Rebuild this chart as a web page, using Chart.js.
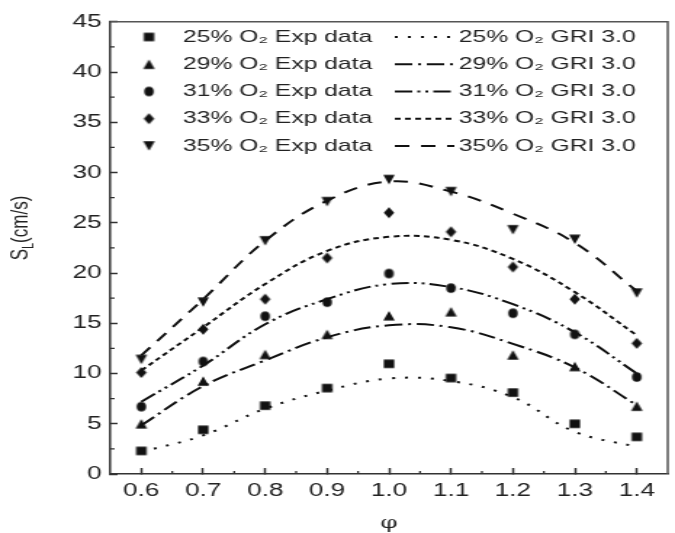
<!DOCTYPE html>
<html>
<head>
<meta charset="utf-8">
<script src="https://cdn.jsdelivr.net/npm/chart.js@4.4.1/dist/chart.umd.min.js"></script>
<style>
  html, body { margin: 0; padding: 0; background: #fff; }
  #wrap { width: 675px; height: 533px; overflow: hidden; }
</style>
</head>
<body>
<div id="wrap"><canvas id="c" width="465" height="533" style="display:block;width:675px;height:533px;"></canvas></div>
<script>
// ---- data ----
const phi = [0.6, 0.7, 0.8, 0.9, 1.0, 1.1, 1.2, 1.3, 1.4];
const xTicks = [0.6, 0.7, 0.8, 0.9, 1.0, 1.1, 1.2, 1.3, 1.4];
const yTicks = [0, 5, 10, 15, 20, 25, 30, 35, 40, 45];

const exp25 = [2.3, 4.4, 6.8, 8.55, 10.97, 9.55, 8.1, 5.0, 3.7];
const exp29 = [5.0, 9.25, 11.9, 13.9, 15.75, 16.15, 11.85, 10.7, 6.75];
const exp31 = [6.7, 11.2, 15.7, 17.1, 19.95, 18.5, 16.0, 13.9, 9.65];
const exp33 = [10.1, 14.4, 17.4, 21.5, 26.0, 24.1, 20.6, 17.4, 13.0];
const exp35 = [11.4, 17.1, 23.2, 27.1, 29.3, 28.1, 24.3, 23.35, 18.0];

const gri25 = [2.2, 3.85, 6.5, 8.3, 9.5, 9.25, 7.65, 4.2, 2.7];
const gri29 = [4.85, 8.75, 11.3, 13.6, 14.8, 14.6, 12.95, 10.6, 6.85];
const gri31 = [7.2, 10.8, 14.9, 17.4, 18.9, 18.6, 16.9, 14.1, 10.0];
const gri33 = [10.3, 14.6, 18.9, 22.2, 23.6, 23.3, 21.4, 18.1, 13.8];
const gri35 = [11.8, 17.4, 23.2, 27.2, 29.1, 28.1, 25.9, 23.0, 18.2];

const expLabels = ['25% O₂ Exp data', '29% O₂ Exp data', '31% O₂ Exp data', '33% O₂ Exp data', '35% O₂ Exp data'];
const griLabels = ['25% O₂ GRI 3.0', '29% O₂ GRI 3.0', '31% O₂ GRI 3.0', '33% O₂ GRI 3.0', '35% O₂ GRI 3.0'];

// ---- styling ----
const INK = '#111111';
const FONT = "'Liberation Sans', Arial, 'DejaVu Sans', sans-serif";
const SX = 675 / 465; // horizontal display stretch of the canvas

// marker glyphs, pre-compensated for the horizontal stretch
function makeMarker(kind, wScreen, h) {
  const w = wScreen / SX;
  const cw = Math.ceil(w) + 2, ch = Math.ceil(h) + 2;
  const c = document.createElement('canvas');
  c.width = cw; c.height = ch;
  const g = c.getContext('2d');
  g.fillStyle = INK;
  const cx = cw / 2, cy = ch / 2;
  g.beginPath();
  if (kind === 'square') {
    g.rect(cx - w / 2, cy - h / 2, w, h);
  } else if (kind === 'up') {
    g.moveTo(cx, cy - h / 2); g.lineTo(cx + w / 2, cy + h / 2); g.lineTo(cx - w / 2, cy + h / 2);
  } else if (kind === 'down') {
    g.moveTo(cx - w / 2, cy - h / 2); g.lineTo(cx + w / 2, cy - h / 2); g.lineTo(cx, cy + h / 2);
  } else if (kind === 'circle') {
    g.ellipse(cx, cy, w / 2, h / 2, 0, 0, Math.PI * 2);
  } else if (kind === 'diamond') {
    g.moveTo(cx, cy - h / 2); g.lineTo(cx + w / 2, cy); g.lineTo(cx, cy + h / 2); g.lineTo(cx - w / 2, cy);
  }
  g.closePath();
  g.fill();
  return c;
}
const markers = [
  makeMarker('square', 10.5, 8.5),
  makeMarker('up', 11.5, 9.5),
  makeMarker('circle', 9.5, 9.5),
  makeMarker('diamond', 10.5, 11),
  makeMarker('down', 11.5, 9.5)
];
const dashes = [
  [2, 7],
  [12, 4, 2, 4],
  [12, 3.5, 2, 3.5, 2, 3.5],
  [4, 3],
  [10, 8]
];

const expSeries = [exp25, exp29, exp31, exp33, exp35];
const griSeries = [gri25, gri29, gri31, gri33, gri35];
const toPts = (ys) => phi.map((x, i) => ({ x: x, y: ys[i] }));

const datasets = [];
expSeries.forEach((ys, i) => {
  datasets.push({
    label: expLabels[i],
    data: toPts(ys),
    showLine: false,
    pointStyle: markers[i],
    pointRadius: 5,
    pointBackgroundColor: INK,
    pointBorderColor: INK,
    pointBorderWidth: 0,
    borderColor: INK,
    backgroundColor: INK
  });
});
griSeries.forEach((ys, i) => {
  datasets.push({
    label: griLabels[i],
    data: toPts(ys),
    showLine: true,
    pointRadius: 0,
    borderColor: INK,
    borderWidth: 2,
    borderDash: dashes[i],
    tension: 0.4,
    fill: false
  });
});

// minor ticks, frame, legend and y title
const decorPlugin = {
  id: 'decor',
  afterDraw(chart) {
    const ctx = chart.ctx;
    const a = chart.chartArea;
    const xs = chart.scales.x, ys = chart.scales.y;
    ctx.save();
    // frame top/right
    ctx.strokeStyle = '#555';
    ctx.lineWidth = 1.5;
    ctx.beginPath();
    ctx.moveTo(a.left, a.top);
    ctx.lineTo(a.right, a.top);
    ctx.lineTo(a.right, a.bottom);
    ctx.stroke();
    // minor ticks
    ctx.strokeStyle = '#333';
    ctx.lineWidth = 1.3;
    ctx.beginPath();
    for (let k = 0; k < xTicks.length - 1; k++) {
      const v = (xTicks[k] + xTicks[k + 1]) / 2;
      const px = xs.getPixelForValue(v);
      ctx.moveTo(px, a.bottom);
      ctx.lineTo(px, a.bottom - 3);
    }
    for (let k = 0; k < yTicks.length - 1; k++) {
      const v = (yTicks[k] + yTicks[k + 1]) / 2;
      const py = ys.getPixelForValue(v);
      ctx.moveTo(a.left, py);
      ctx.lineTo(a.left + 3, py);
    }
    ctx.stroke();

    // legend
    const ds = chart.data.datasets;
    const row0 = 37, rowH = 27.25;
    ctx.font = '17px ' + FONT;
    ctx.textBaseline = 'middle';
    ctx.textAlign = 'left';
    for (let i = 0; i < 5; i++) {
      const y = row0 + i * rowH;
      const e = ds[i];
      Chart.helpers.drawPoint(ctx, { pointStyle: e.pointStyle, radius: 5, rotation: 0, borderWidth: 0 }, 102.6, y);
      ctx.fillStyle = '#222';
      ctx.fillText(e.label, 126, y);
      const g = ds[5 + i];
      ctx.save();
      ctx.strokeStyle = INK;
      ctx.lineWidth = g.borderWidth;
      ctx.setLineDash(g.borderDash);
      ctx.beginPath();
      ctx.moveTo(272, y);
      ctx.lineTo(313, y);
      ctx.stroke();
      ctx.restore();
      ctx.fillStyle = '#222';
      ctx.fillText(g.label, 316, y);
    }

    // y axis title S_L(cm/s)
    ctx.save();
    ctx.translate(14.5, 228);
    ctx.rotate(-Math.PI / 2);
    ctx.fillStyle = '#222';
    ctx.textBaseline = 'middle';
    const big = '17px ' + FONT, small = '11px ' + FONT;
    ctx.font = big; const wS = ctx.measureText('S').width;
    ctx.font = small; const wL = ctx.measureText('L').width;
    ctx.font = big; const wR = ctx.measureText('(cm/s)').width;
    let x0 = -(wS + wL + wR) / 2;
    ctx.font = big; ctx.fillText('S', x0, 0);
    ctx.font = small; ctx.fillText('L', x0 + wS, 5);
    ctx.font = big; ctx.fillText('(cm/s)', x0 + wS + wL, 0);
    ctx.restore();
    ctx.restore();
  }
};

new Chart(document.getElementById('c'), {
  type: 'line',
  data: { datasets: datasets },
  options: {
    responsive: false,
    devicePixelRatio: 1,
    animation: false,
    layout: { padding: { top: 20, right: 1, bottom: 0, left: 0 } },
    plugins: { legend: { display: false }, tooltip: { enabled: false } },
    scales: {
      x: {
        type: 'linear',
        min: 0.55, max: 1.45,
        afterBuildTicks: (s) => { s.ticks = xTicks.map(v => ({ value: v })); },
        afterFit: (s) => { s.height = 59; },
        ticks: {
          callback: (v) => Number(v).toFixed(1),
          font: { family: FONT, size: 18 },
          color: '#222',
          padding: 12,
          maxRotation: 0,
          autoSkip: false
        },
        grid: { drawOnChartArea: false, drawTicks: true, tickLength: -6, tickColor: '#333', tickWidth: 1.5 },
        border: { display: true, color: '#333', width: 1.5 },
        title: { display: true, text: 'φ', font: { family: "'DejaVu Serif', 'Liberation Serif', serif", size: 17 }, color: '#222', padding: { top: 0, bottom: -1 } }
      },
      y: {
        type: 'linear',
        min: 0, max: 45,
        afterBuildTicks: (s) => { s.ticks = yTicks.map(v => ({ value: v })); },
        afterFit: (s) => { s.width = 76; },
        ticks: {
          callback: (v) => String(v),
          font: { family: FONT, size: 18 },
          color: '#222',
          padding: 11,
          autoSkip: false
        },
        grid: { drawOnChartArea: false, drawTicks: true, tickLength: -5, tickColor: '#333', tickWidth: 1.5 },
        border: { display: true, color: '#333', width: 1.5 }
      }
    }
  },
  plugins: [decorPlugin]
});
</script>
</body>
</html>
